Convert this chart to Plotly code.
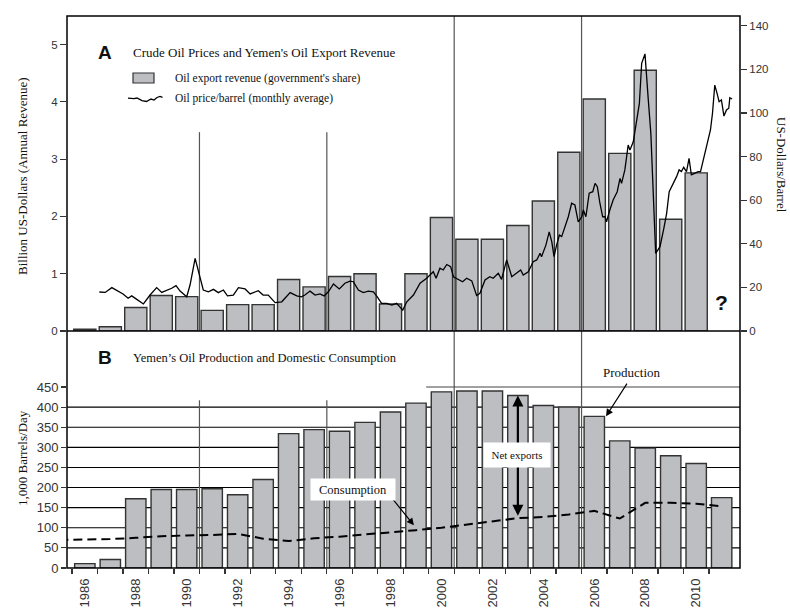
import plotly.graph_objects as go

# ---------------- data ----------------
revenue_years = list(range(1986, 2011))
revenue = [0.03, 0.075, 0.41, 0.62, 0.60, 0.36, 0.46, 0.46, 0.90, 0.77, 0.95, 1.00, 0.47,
           1.00, 1.98, 1.60, 1.60, 1.84, 2.27, 3.12, 4.05, 3.10, 4.55, 1.95, 2.76]

production_years = list(range(1986, 2012))
production = [11, 21, 172, 195, 195, 197, 182, 220, 334, 344, 340, 362, 388,
              410, 438, 440, 440, 429, 404, 400, 377, 316, 298, 279, 260, 175]

consumption_years = list(range(1985, 2012))
consumption = [70, 71, 72, 75, 79, 81, 82, 85, 73, 67, 74, 78, 83, 89,
               94, 100, 108, 115, 124, 127, 133, 142, 123, 162, 162, 160, 153]

price_time = [1986.57, 1986.80, 1987.06, 1987.25, 1987.50, 1987.70, 1987.84, 1988.04, 1988.30,
              1988.56, 1988.82, 1989.02, 1989.20, 1989.41, 1989.58, 1989.74, 1990.00, 1990.13,
              1990.33, 1990.52, 1990.65, 1990.85, 1991.05, 1991.24, 1991.44, 1991.60, 1991.83,
              1992.03, 1992.29, 1992.49, 1992.81, 1993.00, 1993.20, 1993.47, 1993.73, 1994.06,
              1994.32, 1994.50, 1994.64, 1994.84, 1995.04, 1995.23, 1995.39, 1995.56, 1995.76,
              1995.99, 1996.21, 1996.41, 1996.54, 1996.74, 1996.93, 1997.13, 1997.33, 1997.48,
              1997.65, 1997.85, 1998.05, 1998.24, 1998.48, 1998.64, 1998.90, 1999.16, 1999.42,
              1999.68, 1999.79, 1999.94, 2000.07, 2000.21, 2000.36, 2000.47, 2000.66, 2000.83,
              2000.99, 2001.19, 2001.38, 2001.51, 2001.71, 2001.90, 2002.03, 2002.23, 2002.36,
              2002.56, 2002.76, 2002.95, 2003.11, 2003.21, 2003.41, 2003.60, 2003.74, 2003.87,
              2003.93, 2004.10, 2004.23, 2004.33, 2004.42, 2004.52, 2004.63, 2004.72, 2004.85,
              2004.98, 2005.11, 2005.24, 2005.37, 2005.51, 2005.57, 2005.67, 2005.80, 2005.94,
              2006.03, 2006.12, 2006.22, 2006.33, 2006.42, 2006.48, 2006.61, 2006.74, 2006.90,
              2007.01, 2007.07, 2007.20, 2007.33, 2007.40, 2007.53, 2007.66, 2007.77, 2007.86,
              2007.99, 2008.12, 2008.22, 2008.41, 2008.58, 2008.73, 2008.84, 2008.94, 2009.03,
              2009.12, 2009.23, 2009.33, 2009.42, 2009.51, 2009.62, 2009.72, 2009.81, 2009.94,
              2010.07, 2010.17, 2010.30, 2010.40, 2010.56, 2010.64, 2010.73, 2010.82, 2010.90,
              2010.99, 2011.09, 2011.19, 2011.28, 2011.32, 2011.41]
price = [17.9, 17.7, 19.9, 18.5, 17.0, 15.0, 16.1, 14.5, 12.4,
         16.5, 19.9, 17.7, 18.5, 19.6, 20.8, 18.3, 15.7, 21.1,
         33.3, 24.2, 18.8, 18.0, 19.1, 17.6, 18.8, 16.1, 16.5,
         19.9, 19.3, 17.0, 18.5, 16.5, 16.5, 13.0, 13.4, 17.6,
         16.1, 15.7, 16.5, 18.3, 16.5, 17.0, 16.1, 18.0, 21.6,
         19.3, 21.9, 22.9, 22.6, 18.8, 17.6, 18.3, 18.0, 15.7,
         12.7, 12.7, 11.9, 12.7, 9.6, 13.4, 16.5, 21.9, 24.2,
         27.2, 24.2, 28.8, 28.0, 30.5, 29.5, 24.9, 23.8, 22.6,
         24.2, 23.0, 16.3, 17.3, 23.4, 24.9, 24.2, 26.5, 23.7,
         32.6, 24.9, 26.5, 28.0, 25.7, 27.2, 31.8, 32.6, 35.6,
         34.1, 39.4, 45.5, 41.0, 34.1, 39.4, 44.0, 43.3, 47.8,
         52.4, 58.6, 57.8, 50.1, 52.4, 55.5, 52.4, 63.2, 63.9,
         67.7, 66.2, 58.6, 52.4, 52.4, 50.1, 55.5, 60.1, 63.9,
         70.0, 67.7, 73.9, 85.3, 83.0, 86.8, 96.8, 104.4, 122.8,
         127.1, 106.0, 90.7, 35.6, 38.7, 47.1, 54.0, 63.9, 66.2,
         67.7, 70.8, 73.9, 73.1, 75.1, 73.1, 79.2, 71.6, 72.3,
         73.1, 73.1, 79.2, 84.5, 92.2, 99.9, 112.8, 109.0, 105.2,
         106.0, 98.6, 101.4, 102.2, 107.0, 106.4]

label_years = list(range(1986, 2011, 2))
label_text = [str(y) for y in label_years]
year_boundaries = [y + 0.5 for y in range(1985, 2011)]
rev_ticks = [0, 1, 2, 3, 4, 5]
price_ticks = [0, 20, 40, 60, 80, 100, 120, 140]
prod_ticks = [0, 50, 100, 150, 200, 250, 300, 350, 400, 450]

# ---------------- layout geometry ----------------
W, H = 790, 609
L, R, T, B = 67, 740, 16, 568
XMIN, XMAX = 1985.3, 2011.72
SPLIT = (B - 331) / (B - T)


def fx(px):
    return (px - L) / (R - L)


def fy(py):
    return (B - py) / (B - T)


BAR_FILL = "#bdbec2"
BAR_LINE = "#333333"
SERIF = "Liberation Serif"
SANS = "Liberation Sans"

fig = go.Figure()

fig.add_trace(go.Bar(
    x=revenue_years, y=revenue, xaxis="x", yaxis="y", width=0.87,
    marker=dict(color=BAR_FILL, line=dict(color=BAR_LINE, width=1.4)),
    showlegend=False, hoverinfo="skip"))

fig.add_trace(go.Bar(
    x=production_years, y=production, xaxis="x", yaxis="y3", width=0.8,
    marker=dict(color=BAR_FILL, line=dict(color=BAR_LINE, width=1.4)),
    showlegend=False, hoverinfo="skip"))

fig.add_trace(go.Scatter(
    x=price_time, y=price, xaxis="x", yaxis="y2", mode="lines",
    line=dict(color="black", width=1.3), showlegend=False, hoverinfo="skip"))

fig.add_trace(go.Scatter(
    x=consumption_years, y=consumption, xaxis="x", yaxis="y3", mode="lines",
    line=dict(color="black", width=2, dash="9px,5px"), showlegend=False,
    hoverinfo="skip", cliponaxis=True))

tickfont_top = dict(family=SANS, size=11.5, color="#333")
tickfont_bot = dict(family=SANS, size=13, color="#333")

fig.update_layout(
    width=W, height=H,
    margin=dict(l=L, r=W - R, t=T, b=H - B, autoexpand=False),
    paper_bgcolor="white", plot_bgcolor="white",
    barmode="overlay", hovermode=False,
    xaxis=dict(
        domain=[0, 1], range=[XMIN, XMAX], anchor="y3", automargin=False,
        tickmode="array", tickvals=label_years, ticktext=label_text,
        ticks="", tickangle=-90, tickfont=tickfont_bot, ticklabelstandoff=7,
        minor=dict(tickmode="array", tickvals=year_boundaries, ticks="outside",
                   ticklen=5, tickwidth=1.2, tickcolor="#333", showgrid=False),
        showgrid=False, zeroline=False, showline=False),
    yaxis=dict(
        domain=[SPLIT, 1], range=[0, (331 - T) / 57.3], anchor="x", automargin=False,
        tickmode="array", tickvals=rev_ticks, ticks="outside", ticklen=6,
        tickwidth=1.2, tickcolor="#333", tickfont=tickfont_top,
        showgrid=False, zeroline=False, showline=False),
    yaxis2=dict(
        overlaying="y", side="right", anchor="x", range=[0, (331 - T) / 2.18],
        automargin=False,
        tickmode="array", tickvals=price_ticks, ticks="outside", ticklen=6,
        tickwidth=1.2, tickcolor="#333", tickfont=tickfont_top,
        showgrid=False, zeroline=False, showline=False),
    yaxis3=dict(
        domain=[0, SPLIT], range=[0, (B - 331) / 0.4022], anchor="x", automargin=False,
        tickmode="array", tickvals=prod_ticks, ticks="outside", ticklen=5,
        tickwidth=1.2, tickcolor="#333", tickfont=tickfont_bot,
        showgrid=False, zeroline=False, showline=False),
)

shapes = []
# horizontal grid of panel B
for v in prod_ticks[1:-1]:
    shapes.append(dict(type="line", xref="paper", yref="y3", x0=0, x1=1, y0=v, y1=v,
                       line=dict(color="black", width=1.1), layer="below"))
shapes.append(dict(type="line", xref="x", yref="y3", x0=1999.4, x1=XMAX,
                   y0=prod_ticks[-1], y1=prod_ticks[-1],
                   line=dict(color="#444", width=1.1), layer="below"))
# vertical markers
for xv in (1990.5, 1995.5):
    shapes.append(dict(type="line", xref="x", yref="y", x0=xv, x1=xv, y0=0, y1=3.47,
                       line=dict(color="#555", width=1.2), layer="below"))
    shapes.append(dict(type="line", xref="x", yref="y3", x0=xv, x1=xv, y0=0, y1=417,
                       line=dict(color="#555", width=1.2), layer="below"))
for xv in (2000.5, 2005.5):
    shapes.append(dict(type="line", xref="x", yref="paper", x0=xv, x1=xv, y0=0, y1=1,
                       line=dict(color="#555", width=1.2), layer="below"))
# separation line between panels and frame
shapes.append(dict(type="line", xref="paper", yref="paper", x0=0, x1=1, y0=SPLIT, y1=SPLIT,
                   line=dict(color="black", width=1.5)))
shapes.append(dict(type="rect", xref="paper", yref="paper", x0=0, x1=1, y0=0, y1=1,
                   line=dict(color="black", width=1.5)))
# legend symbols
shapes.append(dict(type="rect", xref="paper", yref="paper", x0=fx(133), x1=fx(154),
                   y0=fy(83), y1=fy(73), fillcolor=BAR_FILL,
                   line=dict(color=BAR_LINE, width=1.2)))
sq = [(128, 98), (134, 98.5), (137, 98), (142, 100.5), (146.5, 101.5), (151, 99),
      (154, 100), (157, 97.5), (160, 96.5), (162.5, 97.5)]
path = "M " + " L ".join(f"{fx(a):.4f},{fy(b):.4f}" for a, b in sq)
shapes.append(dict(type="path", xref="paper", yref="paper", path=path,
                   line=dict(color="black", width=1.3)))
fig.update_layout(shapes=shapes)

ann = []


def text(px, py, s, size, family=SERIF, anchor="left", bold=False, **kw):
    if bold:
        s = f"<b>{s}</b>"
    ann.append(dict(x=fx(px), y=fy(py), xref="paper", yref="paper", text=s,
                    showarrow=False, xanchor=anchor, yanchor="middle",
                    font=dict(family=family, size=size, color="#111"), **kw))


text(104.5, 52.5, "A", 19, family=SANS, anchor="center", bold=True)
text(131, 52.5, "Crude Oil Prices and Yemen's Oil Export Revenue", 13)
text(173, 78, "Oil export revenue (government's share)", 11.5)
text(173, 98, "Oil price/barrel (monthly average)", 11.5)
text(105, 357, "B", 19, family=SANS, anchor="center", bold=True)
text(131, 358, "Yemen\u2019s Oil Production and Domestic Consumption", 12.5)

# axis titles
text(23, 176, "Billion US-Dollars (Annual Revenue)", 13, anchor="center", textangle=-90)
text(22, 458, "1,000 Barrels/Day", 13, anchor="center", textangle=-90)
text(782, 165, "US-Dollars/Barrel", 13, anchor="center", textangle=90)

# "?" for missing 2011 revenue
ann.append(dict(x=2011, y=0.49, xref="x", yref="y", text="<b>?</b>", showarrow=False,
                font=dict(family=SANS, size=21, color="#111")))

# arrows
ann.append(dict(x=2006.46, y=377, xref="x", yref="y3", ax=2007.32, ay=462,
                axref="x", ayref="y3", text="", showarrow=True, arrowhead=2,
                arrowsize=1.2, arrowwidth=1.2, arrowcolor="black"))
ann.append(dict(x=1998.92, y=106, xref="x", yref="y3", ax=1997.9, ay=186,
                axref="x", ayref="y3", text="", showarrow=True, arrowhead=2,
                arrowsize=1.2, arrowwidth=1.2, arrowcolor="black"))
ann.append(dict(x=2003.0, y=429, xref="x", yref="y3", ax=2003.0, ay=126,
                axref="x", ayref="y3", text="", showarrow=True, arrowhead=2,
                arrowside="end+start", arrowsize=1, arrowwidth=2.2, arrowcolor="black"))

# labels in panel B
ann.append(dict(x=2007.48, y=486.6, xref="x", yref="y3", text="Production",
                showarrow=False, font=dict(family=SERIF, size=13, color="#111")))
ann.append(dict(x=2002.98, y=281.5, xref="x", yref="y3", text="Net exports",
                showarrow=False, bgcolor="white", width=62, height=20, borderpad=2,
                font=dict(family=SERIF, size=11, color="#111")))
ann.append(dict(x=1996.54, y=195.7, xref="x", yref="y3", text="Consumption",
                showarrow=False, bgcolor="white", width=80, height=17, borderpad=2,
                font=dict(family=SERIF, size=12.5, color="#111")))

fig.update_layout(annotations=ann)

fig.write_html(
    "out.html",
    config={"displayModeBar": False, "staticPlot": True},
    post_script="document.body.style.margin='0';document.body.style.padding='0';",
)
